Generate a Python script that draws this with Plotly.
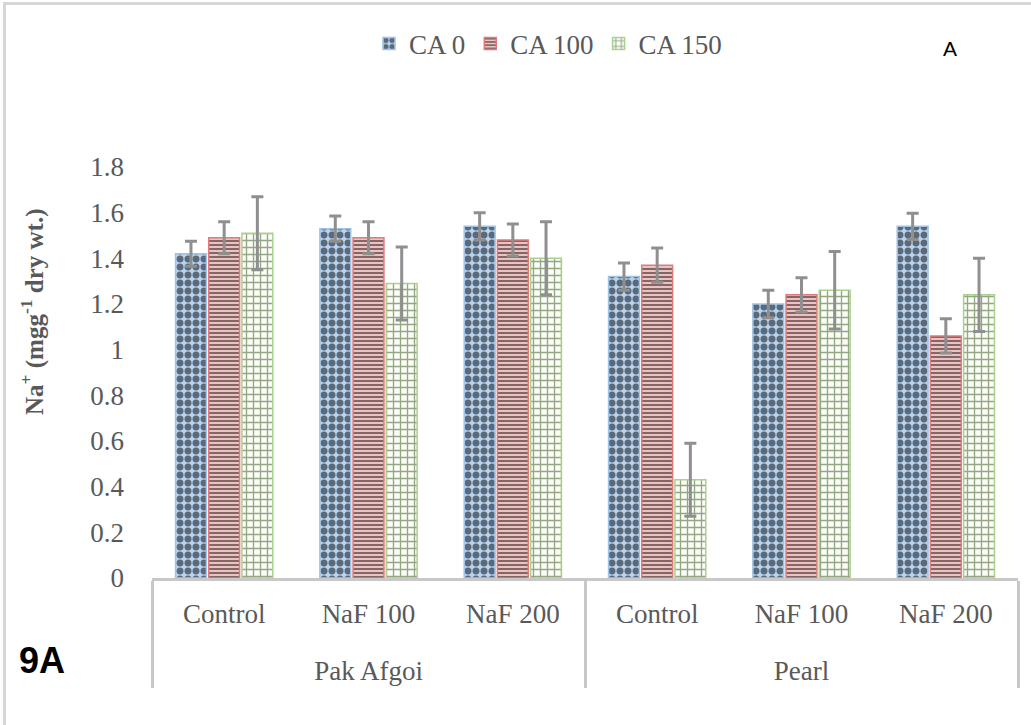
import plotly.graph_objects as go

varieties = ["Pak Afgoi", "Pak Afgoi", "Pak Afgoi", "Pearl", "Pearl", "Pearl"]
treatments = ["Control", "NaF 100", "NaF 200", "Control", "NaF 100", "NaF 200"]

ca0 = [1.42, 1.53, 1.54, 1.32, 1.20, 1.54]
ca0_err = [0.055, 0.055, 0.06, 0.06, 0.06, 0.057]
ca100 = [1.49, 1.49, 1.48, 1.37, 1.24, 1.06]
ca100_err = [0.07, 0.07, 0.07, 0.075, 0.075, 0.075]
ca150 = [1.51, 1.29, 1.40, 0.43, 1.26, 1.24]
ca150_err = [0.16, 0.16, 0.16, 0.16, 0.17, 0.16]

series = [
    ("CA 0", ca0, ca0_err, dict(shape=".", bgcolor="#b7d3f0", fgcolor="#000000", size=8, solidity=0.6), "#9dc3e6"),
    ("CA 100", ca100, ca100_err, dict(shape="-", bgcolor="#f6cccc", fgcolor="#140000", size=4, solidity=0.55), "#e07b7b"),
    ("CA 150", ca150, ca150_err, dict(shape="+", bgcolor="#fbfdf7", fgcolor="#2f4f14", size=7, solidity=0.35), "#a9d18e"),
]

W, H = 1031, 725
L, R, T, B = 152, 13, 167, 147
PW, PH = W - L - R, H - T - B


def px(x):
    return (x - L) / PW


def py(y):
    return (H - B - y) / PH


# outer group labels pushed one line down to match the reference spacing
outer = ["<br>" + v for v in varieties]

fig = go.Figure()
for name, vals, errs, pat, line_c in series:
    fig.add_trace(go.Bar(
        name=name,
        x=[outer, treatments],
        y=vals,
        marker=dict(pattern=pat, line=dict(color=line_c, width=1.5)),
        error_y=dict(type="data", array=errs, visible=True, color="#8f8f8f", thickness=3, width=6),
    ))

serif = "Liberation Serif"
fig.update_layout(
    width=W, height=H,
    paper_bgcolor="white", plot_bgcolor="white",
    margin=dict(l=L, r=R, t=T, b=B, autoexpand=False),
    barmode="group", bargap=0.31, bargroupgap=0.07,
    font=dict(family=serif, size=27, color="#595959"),
    showlegend=True,
    legend=dict(orientation="h", xref="container", yref="container",
                x=548 / W, xanchor="center", y=1 - 44 / H, yanchor="middle",
                font=dict(family=serif, size=27, color="#595959"),
                bgcolor="rgba(0,0,0,0)", traceorder="normal", itemwidth=30),
    xaxis=dict(type="multicategory", showline=True, linecolor="#c8c8c8", linewidth=2.5,
               showdividers=True, dividercolor="#c8c8c8", dividerwidth=2.5,
               tickfont=dict(family=serif, size=27, color="#595959"), ticks="",
               ticklabelstandoff=10, automargin=False),
    yaxis=dict(range=[0, 1.8], dtick=0.2, showgrid=False, zeroline=False,
               showline=False, ticks="", ticklabelstandoff=27, automargin=False,
               tickfont=dict(family=serif, size=27, color="#595959")),
    annotations=[
        dict(text="<b>Na<sup>+</sup> (mgg<sup>-1</sup> dry wt.)</b>", xref="paper", yref="paper",
             x=px(32), y=py(312), textangle=-90, xanchor="center", yanchor="middle",
             showarrow=False, font=dict(family=serif, size=25, color="#595959")),
        dict(text="<b>9A</b>", xref="paper", yref="paper", x=px(17), y=py(660),
             xanchor="left", yanchor="middle", showarrow=False,
             font=dict(family="Liberation Sans", size=36, color="#000000")),
        dict(text="A", xref="paper", yref="paper", x=px(950), y=py(48),
             xanchor="center", yanchor="middle", showarrow=False,
             font=dict(family="Liberation Sans", size=21, color="#000000")),
    ],
)

frame_js = (
    "document.body.style.margin='0';document.body.style.padding='0';"
    "document.documentElement.style.overflow='hidden';"
    "var fr=document.createElement('div');"
    "fr.style.cssText='position:absolute;left:3px;top:2px;width:1200px;height:900px;"
    "border-top:3px solid #d6d6d6;border-left:3px solid #d6d6d6;pointer-events:none;z-index:10;';"
    "document.body.appendChild(fr);"
)

fig.write_html("out.html", config={"displayModeBar": False}, post_script=frame_js)
